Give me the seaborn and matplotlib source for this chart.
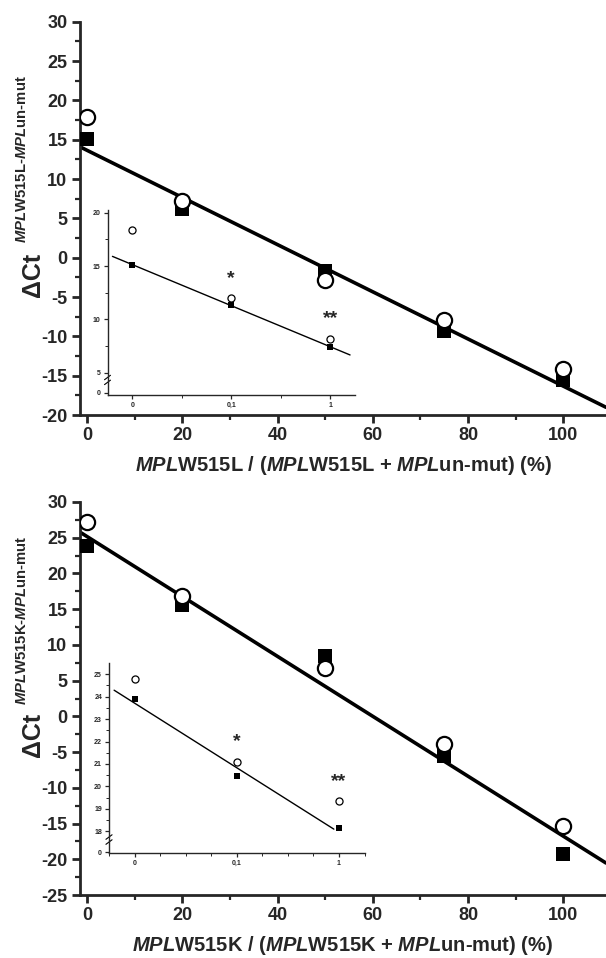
import numpy as np
import pandas as pd
import matplotlib
matplotlib.use("Agg")
import matplotlib.pyplot as plt
import seaborn as sns
from matplotlib.ticker import MultipleLocator, FixedLocator
import matplotlib.transforms as mtransforms

# main panels: percentage of mutant allele vs delta Ct
pct = [0, 20, 50, 75, 100]
l_circle = [17.9, 7.2, -2.8, -7.9, -14.2]
l_square = [15.1, 6.2, -1.7, -9.3, -15.5]
k_circle = [27.2, 16.8, 6.8, -3.9, -15.4]
k_square = [23.8, 15.6, 8.4, -5.5, -19.2]

# insets: low percentages (categorical positions)
low_labels = ["0", "0,1", "1"]
low_pos = [0, 1, 2]
l_low_circle = [18.4, 12.0, 8.2]
l_low_square = [15.1, 11.35, 7.4]
k_low_circle = [24.8, 21.1, 19.35]
k_low_square = [23.9, 20.45, 18.15]
star_labels = ["*", "**"]

sns.set_theme(style="ticks")
plt.rcParams["font.family"] = ["Liberation Sans", "DejaVu Sans"]
plt.rcParams["font.weight"] = "bold"
plt.rcParams["axes.unicode_minus"] = False
plt.rcParams["mathtext.fontset"] = "custom"
plt.rcParams["mathtext.rm"] = "Liberation Sans:bold"
plt.rcParams["mathtext.it"] = "Liberation Sans:italic:bold"
plt.rcParams["mathtext.bf"] = "Liberation Sans:bold"

W, H = 606, 958
fig = plt.figure(figsize=(W / 100, H / 100), dpi=100)


def fx(px):
    return px / W


def fy(py):
    return 1 - py / H


def main_panel(rect, circ, sq, ylim, xlabel):
    ax = fig.add_axes(rect)
    ax.set_facecolor("none")
    ax.set_xlim(-1.5, 109)
    ax.set_ylim(*ylim)
    sns.regplot(x=pct, y=sq, ax=ax, scatter=False, ci=None, truncate=False,
                color="black", line_kws=dict(lw=2.6, zorder=2))
    sns.scatterplot(x=pct, y=sq, ax=ax, marker="s", s=95, color="black",
                    edgecolor="black", linewidth=0, zorder=3)
    sns.scatterplot(x=pct, y=circ, ax=ax, marker="o", s=120, facecolor="white",
                    edgecolor="black", linewidth=1.6, zorder=4)
    ax.set_xlim(-1.5, 109)
    ax.set_ylim(*ylim)
    sns.despine(ax=ax)
    for s in ["left", "bottom"]:
        ax.spines[s].set_linewidth(2.0)
    ax.xaxis.set_major_locator(MultipleLocator(20))
    ax.xaxis.set_minor_locator(MultipleLocator(10))
    ax.yaxis.set_major_locator(MultipleLocator(5))
    ax.yaxis.set_minor_locator(MultipleLocator(2.5))
    ax.tick_params(which="major", direction="out", length=6, width=2,
                   labelsize=13, pad=3)
    ax.tick_params(which="minor", direction="out", length=3.5, width=1.6)
    for t in ax.get_xticklabels() + ax.get_yticklabels():
        t.set_fontweight("bold")
    ax.set_xlabel(xlabel, fontsize=14.5, fontweight="bold", labelpad=7)
    ax.set_ylabel("")
    return ax


def inset_panel(rect, circ, sq, ylim, zero_y, break_y, minor_x, ymajor, ymin_step,
                line_range, star_off):
    ax = fig.add_axes(rect)
    ax.set_facecolor("none")
    ax.set_xlim(*line_range)
    sns.regplot(x=low_pos, y=sq, ax=ax, scatter=False, ci=None, truncate=False,
                color="black", line_kws=dict(lw=1.0, zorder=2))
    sns.scatterplot(x=low_pos, y=sq, ax=ax, marker="s", s=20, color="black",
                    edgecolor="black", linewidth=0, zorder=3)
    sns.scatterplot(x=low_pos, y=circ, ax=ax, marker="o", s=26, facecolor="white",
                    edgecolor="black", linewidth=0.9, zorder=4)
    ax.set_xlim(-0.25, 2.25)
    ax.set_ylim(*ylim)
    sns.despine(ax=ax)
    for s in ["left", "bottom"]:
        ax.spines[s].set_linewidth(1.0)
    ax.set_xticks(low_pos)
    ax.set_xticklabels(low_labels)
    ax.xaxis.set_minor_locator(FixedLocator(minor_x))
    ax.set_yticks([zero_y] + ymajor)
    ax.set_yticklabels(["0"] + [str(v) for v in ymajor])
    # minor ticks only above the axis break
    ax.yaxis.set_minor_locator(FixedLocator(
        [v for v in np.arange(ymajor[0], ymajor[-1], ymin_step) if v not in ymajor]))
    ax.tick_params(which="major", direction="out", length=3, width=0.9,
                   labelsize=5, pad=2)
    ax.tick_params(which="minor", direction="out", length=2, width=0.7)
    for t in ax.get_xticklabels() + ax.get_yticklabels():
        t.set_fontweight("bold")
    # axis break marks on the y spine
    tr = mtransforms.blended_transform_factory(ax.transAxes, ax.transData)
    h = (ylim[1] - ylim[0]) * 0.012
    for dy in (0, -2.2 * h):
        ax.plot([-0.012, 0.012], [break_y + dy - h, break_y + dy + h], transform=tr,
                color="black", lw=0.8, clip_on=False)
    for p, c, lab in zip(low_pos[1:], circ[1:], star_labels):
        ax.annotate(lab, xy=(p, c), xytext=(0, star_off), textcoords="offset points",
                    ha="center", va="baseline", fontsize=14, fontweight="bold")
    ax.set_xlabel("")
    ax.set_ylabel("")
    return ax


# top panel (W515L)
ax1 = main_panel([fx(80), fy(415), 1 - fx(80), (415 - 21.7) / H], l_circle, l_square,
                 (-20, 30),
                 r"$\mathit{MPL}$W515L $\mathit{/\ (MPL}$W515L + $\mathit{MPL}$un-mut$\mathit{)}$ (%)")
inset_panel([fx(107.5), fy(395), (355 - 107.5) / W, (395 - 210) / H],
            l_low_circle, l_low_square, (2.91, 20.25), 3.12, 4.55,
            [0.5, 1.5], [5, 10, 15, 20], 2.5, (-0.2, 2.2), 11)

# bottom panel (W515K)
ax2 = main_panel([fx(80), fy(895), 1 - fx(80), (895 - 502) / H], k_circle, k_square,
                 (-25, 30),
                 r"$\mathit{MPL}$W515K $\mathit{/\ (MPL}$W515K + $\mathit{MPL}$un-mut$\mathit{)}$ (%)")
inset_panel([fx(109), fy(853), (364.5 - 109) / W, (853 - 663.3) / H],
            k_low_circle, k_low_square, (17.04, 25.48), 17.07, 17.75,
            [-0.25, 0.25, 0.5, 0.75, 1.25, 1.5, 1.75, 2.25],
            [18, 19, 20, 21, 22, 23, 24, 25], 0.5, (-0.2, 1.95), 11)

# rotated y labels: delta Ct with superscript
for yc, ys, mut in [(275, 243, "W515L"), (735, 705, "W515K")]:
    fig.text(fx(33), fy(yc), "\u0394Ct", rotation=90, ha="center", va="center",
             fontsize=18, fontweight="bold")
    fig.text(fx(22), fy(ys), r"$\mathit{MPL}$" + mut + r"-$\mathit{MPL}$un-mut",
             rotation=90, ha="center", va="bottom", fontsize=10.7, fontweight="bold")

fig.savefig("out.png", dpi=100)
